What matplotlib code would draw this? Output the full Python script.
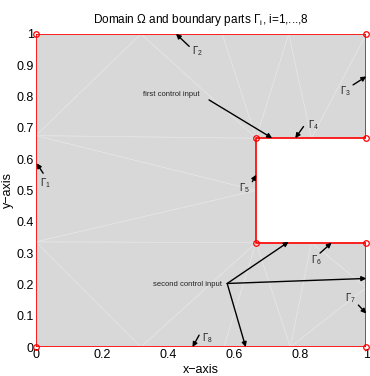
import matplotlib
matplotlib.use("Agg")
import matplotlib.pyplot as plt
from matplotlib.patches import Polygon
from matplotlib.ticker import FormatStrFormatter

plt.rcParams['font.family'] = ['Liberation Sans', 'DejaVu Sans']
plt.rcParams['mathtext.fontset'] = 'custom'
plt.rcParams['mathtext.rm'] = 'Liberation Sans'
plt.rcParams['mathtext.it'] = 'Liberation Sans'
plt.rcParams['mathtext.bf'] = 'Liberation Sans:bold'

# Domain boundary (vertices)
bnd_x = [0, 1, 1, 2/3, 2/3, 1, 1, 0]
bnd_y = [0, 0, 1/3, 1/3, 2/3, 2/3, 1, 1]

# Mesh nodes
node_x = [0, 0.318, 0.569, 0.77, 1, 1, 1, 0.834, 2/3, 2/3, 2/3, 0.834, 1, 1, 0.765, 0.564, 0.318, 0, 0, 0]
node_y = [0, 0, 0, 0, 0, 0.19, 1/3, 1/3, 1/3, 0.5, 2/3, 2/3, 2/3, 1, 1, 1, 1, 1, 0.675, 0.336]
triangles = [(0, 1, 19), (19, 1, 8), (1, 2, 8), (2, 3, 8), (3, 7, 8), (3, 4, 5), (3, 5, 7),
             (5, 6, 7), (19, 8, 9), (19, 9, 18), (18, 9, 10), (18, 10, 16), (18, 16, 17),
             (16, 10, 15), (15, 10, 14), (14, 10, 11), (14, 11, 13), (11, 12, 13)]

# Boundary part labels: (label, text x, text y, arrow tip x, tip y, tail x, tail y)
gamma_labels = ['$\\Gamma_1$', '$\\Gamma_2$', '$\\Gamma_3$', '$\\Gamma_4$',
                '$\\Gamma_5$', '$\\Gamma_6$', '$\\Gamma_7$', '$\\Gamma_8$']
gamma_text_x = [0.03, 0.488, 0.936, 0.84, 0.63, 0.85, 0.951, 0.519]
gamma_text_y = [0.523, 0.944, 0.816, 0.709, 0.507, 0.278, 0.155, 0.028]
gamma_tip_x = [0.002, 0.424, 1.0, 0.785, 0.667, 0.895, 1.0, 0.474]
gamma_tip_y = [0.587, 1.0, 0.864, 0.667, 0.55, 0.333, 0.107, 0.0]
gamma_tail_x = [0.022, 0.464, 0.96, 0.81, 0.655, 0.86, 0.976, 0.494]
gamma_tail_y = [0.555, 0.96, 0.837, 0.704, 0.528, 0.3, 0.134, 0.038]

# Control inputs
first_text = 'first control input'
first_text_xy = (0.409, 0.806)
first_tail = (0.524, 0.789)
first_tips = [(0.715, 0.667)]
second_text = 'second control input'
second_text_xy = (0.459, 0.2)
second_tail = (0.579, 0.203)
second_tips = [(0.765, 0.336), (1.0, 0.219), (0.635, 0.0)]

fig = plt.figure(figsize=(3.7, 3.76), dpi=100)
ax = fig.add_axes([0.097, 0.077, 0.893, 0.833])

ax.add_patch(Polygon(list(zip(bnd_x, bnd_y)), closed=True, facecolor='#d8d8d8',
                     edgecolor='none', zorder=1))
for tri in triangles:
    xs = [node_x[i] for i in tri] + [node_x[tri[0]]]
    ys = [node_y[i] for i in tri] + [node_y[tri[0]]]
    ax.plot(xs, ys, color='#e4e4e4', lw=0.5, zorder=2)

ax.plot(bnd_x + [bnd_x[0]], bnd_y + [bnd_y[0]], color='red', lw=1.2, zorder=3)
ax.plot(bnd_x, bnd_y, 'o', mfc='none', mec='red', ms=4, mew=0.9, zorder=4, clip_on=False)

arrow = dict(arrowstyle='-|>', color='black', lw=1.0, mutation_scale=7, shrinkA=0, shrinkB=0)
for lab, tx, ty, px, py, qx, qy in zip(gamma_labels, gamma_text_x, gamma_text_y,
                                       gamma_tip_x, gamma_tip_y, gamma_tail_x, gamma_tail_y):
    ax.annotate('', xy=(px, py), xytext=(qx, qy), arrowprops=arrow, zorder=5,
                annotation_clip=False)
    ax.text(tx, ty, lab, fontsize=7, ha='center', va='center', color='#222222', zorder=5)

ax.text(first_text_xy[0], first_text_xy[1], first_text, fontsize=5.5, ha='center',
        va='center', color='#222222', zorder=5)
for tip in first_tips:
    ax.annotate('', xy=tip, xytext=first_tail, arrowprops=arrow, zorder=5)
ax.text(second_text_xy[0], second_text_xy[1], second_text, fontsize=5.5, ha='center',
        va='center', color='#222222', zorder=5)
for tip in second_tips:
    ax.annotate('', xy=tip, xytext=second_tail, arrowprops=arrow, zorder=5,
                annotation_clip=False)

ax.set_xlim(0, 1)
ax.set_ylim(0, 1)
ax.set_xticks([0, 0.2, 0.4, 0.6, 0.8, 1])
ax.set_yticks([0, 0.1, 0.2, 0.3, 0.4, 0.5, 0.6, 0.7, 0.8, 0.9, 1])
ax.xaxis.set_major_formatter(FormatStrFormatter('%g'))
ax.yaxis.set_major_formatter(FormatStrFormatter('%g'))
ax.tick_params(length=0, labelsize=9, pad=1.5)
for s in ax.spines.values():
    s.set_visible(False)
ax.set_xlabel('x\u2212axis', fontsize=9, labelpad=2)
ax.set_ylabel('y\u2212axis', fontsize=9, labelpad=2)
ax.set_title('Domain \u03a9 and boundary parts $\\Gamma_\\mathrm{i}$, i=1,...,8',
             fontsize=8.5, pad=8)

fig.savefig('out.png', dpi=100)
